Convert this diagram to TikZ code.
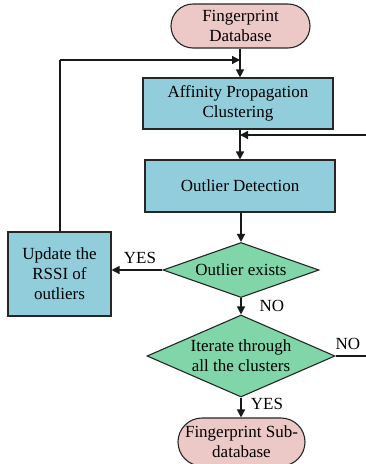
\documentclass[tikz,border=0pt]{standalone}
\usepackage{fontspec}
\setmainfont{Liberation Serif}
\usetikzlibrary{shapes.geometric,shapes.misc,arrows.meta}
\definecolor{termfill}{RGB}{236,200,199}
\definecolor{boxfill}{RGB}{146,205,220}
\definecolor{diafill}{RGB}{128,214,168}
\tikzset{
  base/.style={draw=black!85, line width=1.1pt, align=center, font=\fontsize{17}{20}\selectfont, inner sep=0pt},
  term/.style={base, rounded rectangle, fill=termfill},
  procbox/.style={base, rectangle, fill=boxfill},
  decision/.style={base, diamond, fill=diafill},
  conn/.style={line width=1.3pt, draw=black!90, -{Triangle[length=8pt,width=8pt]}},
  plain/.style={line width=1.3pt, draw=black!90},
  lbl/.style={font=\fontsize{17}{20}\selectfont, inner sep=0pt}
}
\begin{document}
\begin{tikzpicture}[x=1pt,y=-1pt]
\useasboundingbox (0,0) rectangle (366,464);
\node[term, minimum width=139pt, minimum height=44pt] (t1) at (240.5,26) {Fingerprint\\Database};
\node[procbox, minimum width=190pt, minimum height=51pt] (b1) at (238,103.5) {Affinity Propagation\\Clustering};
\node[procbox, minimum width=190pt, minimum height=52pt] (b2) at (240,186) {Outlier Detection};
\node[decision, minimum width=156pt, minimum height=55pt, aspect=2.84] (d1) at (241,270) {Outlier exists};
\node[procbox, minimum width=103pt, minimum height=84pt] (u) at (59.5,274) {Update the\\RSSI of\\outliers};
\node[decision, minimum width=188pt, minimum height=82pt, aspect=2.29] (d2) at (241,356) {Iterate through\\all the clusters};
\node[term, minimum width=127pt, minimum height=48pt] (t2) at (241.5,442) {Fingerprint Sub-\\database};

\coordinate (j1) at (240,60);
\coordinate (lc) at (60,60);
\coordinate (r1) at (366,135);
\coordinate (j2) at (240,135);
\coordinate (r2) at (366,356);

\draw[conn] (t1.south -| j1) -- (b1.north -| j1);
\draw[plain] (u.north -| lc) -- (lc);
\draw[conn] (lc) -- (j1);
\draw[conn] (r1) -- (j2);
\draw[conn] (b1.south -| j1) -- (b2.north -| j1);
\draw[conn] (b2.south -| d1.north) -- (d1.north);
\draw[conn] (d1.west) -- (d1.west -| u.east);
\draw[conn] (d1.south) -- (d2.north);
\draw[plain] (d2.east) -- (r2);
\draw[conn] (d2.south) -- (t2.north -| d2.south);

\node[lbl] (yes1) at (140,258) {YES};
\node[lbl] (no1) at (272,306) {NO};
\node[lbl] (no2) at (348,344) {NO};
\node[lbl] (yes2) at (267,404) {YES};
\end{tikzpicture}
\end{document}
